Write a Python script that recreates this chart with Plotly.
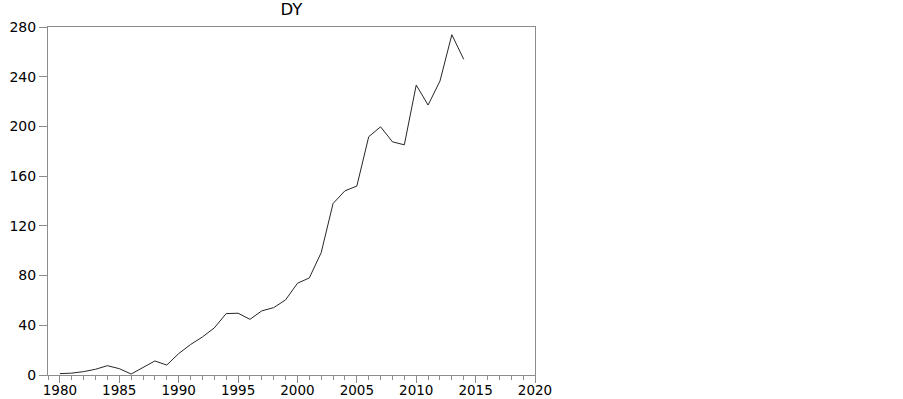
import plotly.graph_objects as go

years = list(range(1980, 2015))
dy = [1.1, 1.5, 2.7, 4.6, 7.5, 5.1, 0.8, 6.0, 11.3, 8.0,
      17.2, 24.5, 30.6, 37.9, 49.4, 49.7, 44.8, 51.6, 54.2, 60.4,
      73.8, 78.1, 98.5, 138.0, 148.2, 152.0, 191.7, 199.7, 187.6, 185.2,
      233.3, 217.2, 236.5, 273.8, 254.0]
x_ticks = [1980, 1985, 1990, 1995, 2000, 2005, 2010, 2015, 2020]
y_ticks = [0, 40, 80, 120, 160, 200, 240, 280]
title_text = "DY"

axis_color = "#8c8c8c"
font_family = "DejaVu Sans, sans-serif"

fig = go.Figure()
fig.add_trace(go.Scatter(x=years, y=dy, mode="lines",
                         line=dict(color="#262626", width=1)))

fig.update_layout(
    width=903, height=399,
    margin=dict(l=48, r=368, t=27, b=24, autoexpand=False),
    paper_bgcolor="white", plot_bgcolor="white",
    showlegend=False,
    font=dict(family=font_family, size=14, color="black"),
    title=dict(text=title_text, x=(48 + 535) / 2 / 903, xanchor="center",
               y=1 - 9 / 399, yanchor="middle",
               font=dict(family=font_family, size=16.5, color="black")),
)
fig.update_xaxes(range=[1979, 2020], tickvals=x_ticks, ticks="outside",
                 ticklen=7, tickcolor=axis_color, tickwidth=1,
                 showline=True, linecolor=axis_color, linewidth=1, mirror=True,
                 showgrid=False, zeroline=False, automargin=False,
                 ticklabelstandoff=-4,
                 minor=dict(dtick=1, tick0=1980, ticks="outside", ticklen=4,
                            tickcolor=axis_color, showgrid=False),
                 tickfont=dict(size=13.5, color="black"))
fig.update_yaxes(range=[0, 280], tickvals=y_ticks, ticks="outside",
                 ticklen=8, tickcolor=axis_color, tickwidth=1,
                 showline=True, linecolor=axis_color, linewidth=1, mirror=True,
                 showgrid=False, zeroline=False, automargin=False,
                 tickfont=dict(size=14, color="black"))

fig.write_html("out.html", config={"displayModeBar": False},
               post_script="document.body.style.margin='0';document.body.style.padding='0';")
